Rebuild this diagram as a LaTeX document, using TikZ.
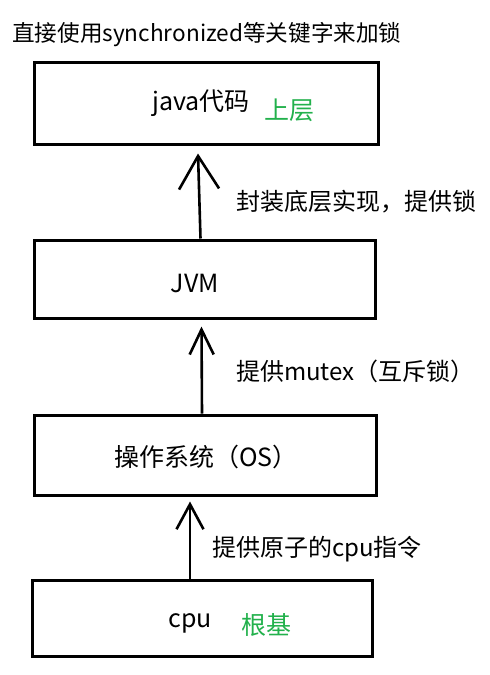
\documentclass[tikz,border=0pt]{standalone}
\usepackage{fontspec}
\setmainfont{Noto Sans CJK SC}
\usepackage{xcolor}
\usetikzlibrary{arrows.meta,positioning}
\definecolor{paintgreen}{RGB}{34,177,76}

\begin{document}
\begin{tikzpicture}[x=1pt,y=-1pt,
    layerbox/.style={draw, line width=3pt, minimum width=#1, inner sep=0pt},
    boxtext/.style={font=\fontsize{25}{29}\selectfont, inner sep=0pt},
    note/.style={font=\fontsize{24}{28}\selectfont, anchor=west, inner sep=0pt},
    uparrow/.style={line width=2.6pt}]
  \useasboundingbox[fill=white] (0,0) rectangle (490,675);

  \node[note, font=\fontsize{22.6}{26}\selectfont] (title) at (12,35) {直接使用synchronized等关键字来加锁};

  % layers, top to bottom
  \node[layerbox=344pt, minimum height=82pt] (java) at (206,103) {};
  \node[layerbox=341pt, minimum height=78pt] (jvm) at (204.5,279) {};
  \node[layerbox=342pt, minimum height=80pt] (os) at (205,455) {};
  \node[layerbox=340pt, minimum height=76pt] (cpu) at (202,618) {};

  \node[boxtext] (javaname) at (201,103) {java代码};
  \node[boxtext, text=paintgreen] (javatag) at (289,110) {上层};
  \node[boxtext] (jvmname) at (195,283) {JVM};
  \node[boxtext] (osname) at (206,457) {操作系统（OS）};
  \node[boxtext] (cpuname) at (190,623) {cpu};
  \node[boxtext, text=paintgreen] (cputag) at (266,625) {根基};

  % what each layer gives the one above
  \draw[uparrow, -{Straight Barb[length=33pt,width=40pt]}]
    ([xshift=-4pt]jvm.north) -- ([xshift=-8pt,yshift=-8pt]java.south);
  \draw[uparrow, -{Straight Barb[length=25pt,width=24pt]}]
    ([xshift=-3pt]os.north) -- ([xshift=-3pt,yshift=-7pt]jvm.south);
  \draw[uparrow, -{Straight Barb[length=25pt,width=27pt]}]
    ([xshift=-12pt]cpu.north) -- ([xshift=-15pt,yshift=-5pt]os.south);

  \node[note] (wraps) at (236,202) {封装底层实现，提供锁};
  \node[note] (mutex) at (236,371) {提供mutex（互斥锁）};
  \node[note] (atomic) at (212,549) {提供原子的cpu指令};
\end{tikzpicture}
\end{document}
